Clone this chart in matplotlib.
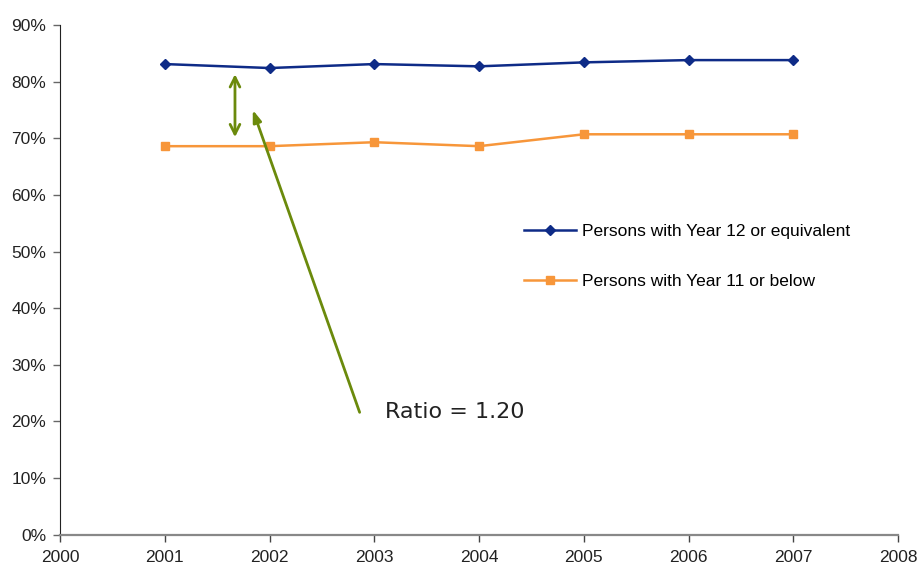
import matplotlib
matplotlib.use("Agg")
import matplotlib.pyplot as plt
from matplotlib.ticker import FuncFormatter

years = [2001, 2002, 2003, 2004, 2005, 2006, 2007]
year12 = [83.1, 82.4, 83.1, 82.7, 83.4, 83.8, 83.8]
year11 = [68.6, 68.6, 69.3, 68.6, 70.7, 70.7, 70.7]
labels = ["Persons with Year 12 or equivalent", "Persons with Year 11 or below"]
ratio_text = "Ratio = 1.20"

plt.rcParams["font.family"] = ["Liberation Sans", "DejaVu Sans"]

fig = plt.figure(figsize=(9.18, 5.68), dpi=100)
ax = fig.add_axes([0.0654, 0.0587, 0.9129, 0.8973])

blue = "#0E2B87"
orange = "#F7963A"
green = "#6B8A0C"

ax.plot(years, year12, color=blue, lw=1.8, marker="D", ms=5.5, label=labels[0])
ax.plot(years, year11, color=orange, lw=1.8, marker="s", ms=5.5, label=labels[1])

ax.set_xlim(2000, 2008)
ax.set_ylim(0, 90)
ax.set_xticks(range(2000, 2009))
ax.set_yticks(range(0, 91, 10))
ax.yaxis.set_major_formatter(FuncFormatter(lambda v, p: f"{int(v)}%"))

for s in ["top", "right"]:
    ax.spines[s].set_visible(False)
ax.spines["left"].set_color("#222222")
ax.spines["bottom"].set_color("#888888")
ax.spines["bottom"].set_linewidth(1.6)
ax.tick_params(axis="both", labelsize=12.5, colors="#222222", length=5, width=1)
ax.tick_params(axis="x", pad=6, color="#444444")
ax.tick_params(axis="y", pad=5, color="#666666")

# gap between the two series
ax.annotate("", xy=(2001.67, 81.8), xytext=(2001.67, 69.7),
            arrowprops=dict(arrowstyle="<->,head_length=0.7,head_width=0.35",
                            color=green, lw=2))
# pointer from the label to the gap
ax.annotate("", xy=(2001.84, 75.0), xytext=(2002.86, 21.6),
            arrowprops=dict(arrowstyle="-|>,head_length=0.7,head_width=0.25",
                            color=green, lw=2, shrinkA=0, shrinkB=0))
ax.text(2003.1, 21.6, ratio_text, fontsize=16, va="center", ha="left",
        color="#222222", family=["DejaVu Sans"])

leg = ax.legend(loc="upper left", bbox_to_anchor=(0.535, 0.64), frameon=False,
                fontsize=12.5, labelspacing=2.0, handlelength=3.0,
                handletextpad=0.35)

fig.savefig("out.png", dpi=100)
